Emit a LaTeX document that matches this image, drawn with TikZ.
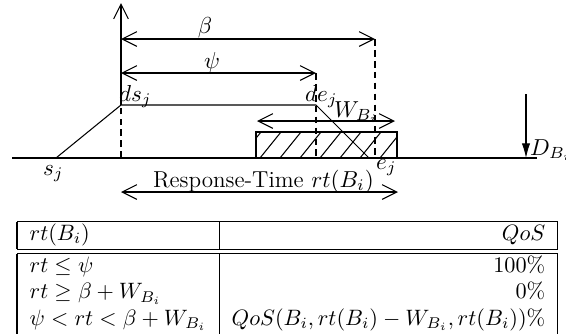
\RequirePackage{fix-cm}
\documentclass[tikz,border=0pt]{standalone}
\usetikzlibrary{arrows.meta}
\begin{document}
\begin{tikzpicture}[x=0.476pt,y=-0.476pt,
  ln/.style={line width=0.5pt},
  dsh/.style={line width=0.5pt,dash pattern=on 3.2pt off 2pt},
  barb/.tip={Straight Barb[length=7pt,width=7pt,line width=0.5pt]},
  dim/.style={line width=0.5pt,barb-barb},
  lbl/.style={inner sep=0pt,outer sep=0pt,font=\fontsize{11}{13.2}\selectfont},
  tbl/.style={inner sep=0pt,outer sep=0pt,font=\fontsize{10.6}{12.6}\selectfont}]
\useasboundingbox (0,0) rectangle (566,334);
% time axis
\coordinate (base0) at (12,158);
\coordinate (base1) at (537,158);
\draw[line width=0.8pt] (base0) -- (base1);
% vertical axis
\coordinate (axisTop) at (121,3);
\coordinate (dsj) at (121,105);
\coordinate (axisBot) at (121,158);
\draw[ln,-barb] (dsj) -- (axisTop);
\draw[dsh] (axisBot) -- (dsj);
% profile
\coordinate (sj) at (56,158);
\coordinate (dej) at (316,105);
\coordinate (ej) at (369,158);
\draw[ln] (sj) -- (dsj) -- (dej) -- (ej);
% dashed markers
\coordinate (psiEnd) at (316,73);
\coordinate (dejBase) at (316,158);
\coordinate (betaEnd) at (375,39);
\coordinate (betaBase) at (375,158);
\draw[dsh] (psiEnd) -- (dejBase);
\draw[dsh] (betaEnd) -- (betaBase);
% dimension arrows
\coordinate (betaStart) at (121,39);
\coordinate (psiStart) at (121,73);
\draw[dim] (betaStart) -- (betaEnd);
\draw[dim] (psiStart) -- (psiEnd);
\node[lbl] (beta) at (205,28) {$\beta$};
\node[lbl] (psi) at (212,63) {$\psi$};
% window
\coordinate (wL) at (257,121);
\coordinate (wR) at (395,121);
\draw[dim] (wL) -- (wR);
\coordinate (rA) at (256,132);
\coordinate (rB) at (397,158);
\begin{scope}
  \clip (rA) rectangle (rB);
  \foreach \x in {240,260,...,400} \draw[ln] (\x,158) -- ++(21,-26);
\end{scope}
\draw[ln] (rA) rectangle (rB);
% D arrow
\coordinate (dTop) at (526,94);
\coordinate (dBot) at (526,158);
\draw[ln,-{Latex[length=7pt,width=4pt]}] (dTop) -- (dBot);
% response time arrow
\coordinate (rtL) at (121,192);
\coordinate (rtR) at (398,192);
\draw[dim] (rtL) -- (rtR);
% labels
\node[lbl,anchor=base west] (lsj) at (43,175) {$s_j$};
\node[lbl,anchor=base west] (ldsj) at (119,101) {$ds_j$};
\node[lbl,anchor=base west] (ldej) at (305,101) {$de_j$};
\node[lbl,anchor=base west] (lW) at (334,117) {$W_{B_i}$};
\node[lbl,anchor=base west] (lD) at (530,155) {$D_{B_i}$};
\node[lbl,anchor=base west] (lrt) at (153,187) {Response-Time $rt(B_i)$};
\node[lbl,anchor=base west] (lej) at (376,169) {$e_j$};
% table
\node[tbl,anchor=north west] (table) at (17,221) {\setlength{\arrayrulewidth}{0.5pt}%
\begin{tabular}{|l|r|}
\hline
$rt(B_i)$ & $QoS$\\
\hline\hline
$rt \leq \psi$ & $100\%$\\
$rt \geq \beta + W_{B_i}$ & $0\%$\\
$\psi < rt < \beta + W_{B_i}$ & $QoS(B_i, rt(B_i) - W_{B_i}, rt(B_i))\%$\\[3pt]
\end{tabular}};
\end{tikzpicture}
\end{document}
